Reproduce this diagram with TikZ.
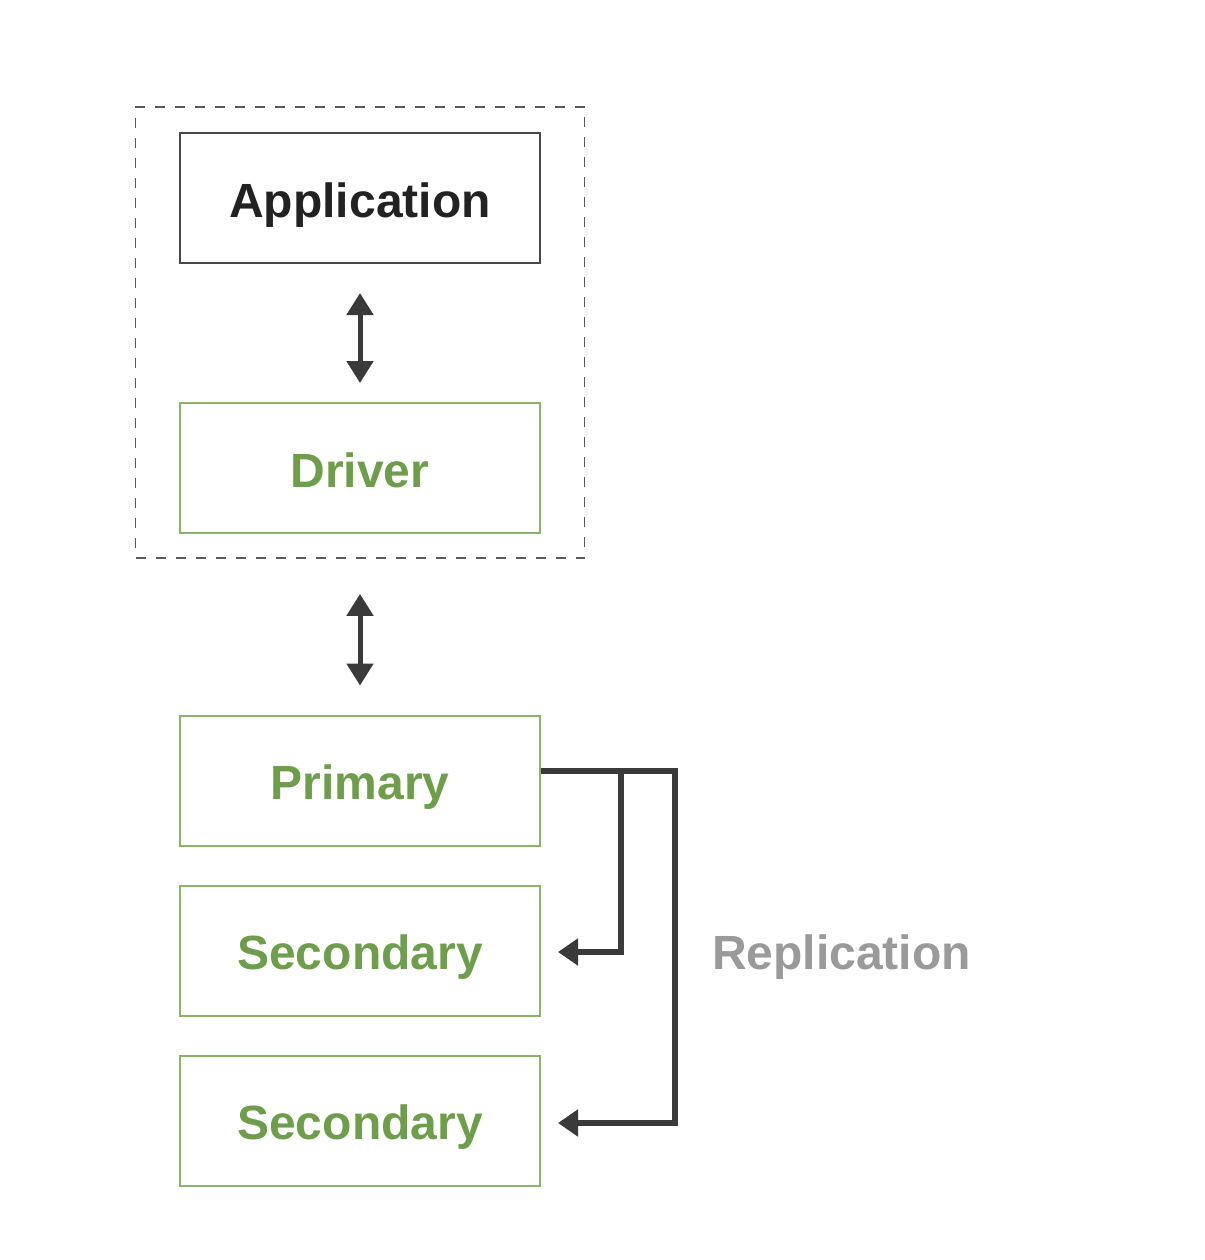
\documentclass[tikz,border=0pt]{standalone}
\usepackage{fontspec}
\setmainfont{Liberation Sans}
\usetikzlibrary{arrows.meta}
\definecolor{grn}{HTML}{6E9E4B}
\definecolor{grnline}{HTML}{8DB36A}
\definecolor{darktxt}{HTML}{222222}
\definecolor{darkline}{HTML}{484848}
\definecolor{arr}{HTML}{3A3A3A}
\definecolor{graytxt}{HTML}{9A9A9A}
\begin{document}
\begin{tikzpicture}[x=1pt,y=-1pt,
  box/.style={draw=grnline, line width=2pt, minimum width=360pt, minimum height=130pt, inner sep=0pt,
    text height=38pt, text depth=0pt,
    text=grn, font=\fontsize{48}{58}\selectfont\bfseries},
  appbox/.style={box, draw=darkline, text=darktxt},
  dbl/.style={draw=arr, line width=5pt, {Triangle[length=22pt,width=26pt]}-{Triangle[length=22pt,width=26pt]}},
  rep/.style={draw=arr, line width=6pt, -{Triangle[length=20pt,width=26pt]}},
  grpbox/.style={draw=darkline!90, line width=1.8pt, dash pattern=on 10pt off 10pt, minimum width=449pt, minimum height=451pt, inner sep=0pt}]
\useasboundingbox (0,0) rectangle (1204,1260);
\fill[white] (0,0) rectangle (1204,1260);
\node[grpbox] (grp) at (360,332.5) {};
\node[appbox] (app) at (360,198) {Application};
\node[box] (drv) at (360,468) {Driver};
\node[box] (pri) at (360,780.5) {Primary};
\node[box] (sec1) at (360,950.5) {Secondary};
\node[box] (sec2) at (360,1120.5) {Secondary};
\node[font=\fontsize{48}{58}\selectfont\bfseries, text=graytxt, anchor=base west, inner sep=0pt] (lbl) at (712,969) {Replication};
\draw[dbl, shorten <=29pt, shorten >=19pt] (app.south) -- (drv.north);
\draw[dbl, shorten <=35pt, shorten >=29pt] (grp.south) -- (pri.north);
\coordinate (split) at (621,771);
\draw[rep, shorten >=17pt, line join=miter] ([yshift=9.5pt]pri.east) -- (675,771) |- ([yshift=-2.5pt]sec2.east);
\draw[rep, shorten >=17pt, line join=miter] (split) |- ([yshift=-1.5pt]sec1.east);
\end{tikzpicture}
\end{document}
